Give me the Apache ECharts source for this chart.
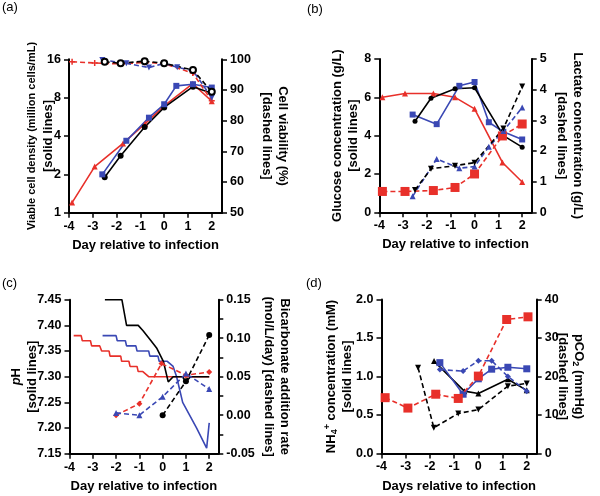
<!DOCTYPE html>
<html><head><meta charset="utf-8">
<script src="https://cdn.jsdelivr.net/npm/echarts@6/dist/echarts.min.js"></script>
<style>html,body{margin:0;padding:0;background:#fff}#c{width:600px;height:496px}</style>
</head><body><div id="c"></div><script>
// ---------- DATA ----------
const dayTicks = [-4, -3, -2, -1, 0, 1, 2];
// (a) viable cell density (million cells/mL), log2 axis
const vcdRed   = [[-3.87,1.2],[-2.92,2.3],[-1.73,3.5],[-0.8,5.0],[0,6.9],[1.2,10.3],[2,7.5]];
const vcdBlue  = [[-2.6,2.0],[-1.59,3.67],[-0.64,5.57],[0,7.1],[0.51,9.9],[1.21,10.2],[2,9.6]];
const vcdBlack = [[-2.5,1.9],[-1.83,2.8],[-0.82,4.7],[0,6.7],[1.21,9.75],[2,8.65]];
// (a) cell viability (%)
const viaRed   = [[-3.87,99.2],[-2.92,98.8],[-1.8,98.5],[-0.8,99.0],[0,98.6],[1.2,95.5],[2,86.5]];
const viaBlack = [[-2.5,99.2],[-1.83,98.7],[-0.82,99.4],[0,98.7],[1.21,96.5],[2,89.4]];
const viaBlue  = [[-2.6,99.8],[-1.59,98.7],[-0.64,97.3],[0,98.7],[0.55,97.4],[1.21,96.3],[2,87.5]];
// (b) glucose (g/L)
const glcRed   = [[-3.87,6.0],[-2.92,6.2],[-1.73,6.2],[-0.82,6.0],[0,5.4],[1.17,2.6],[2,1.58]];
const glcBlue  = [[-2.6,5.1],[-1.59,4.6],[-0.64,6.6],[0,6.8],[0.6,4.7],[1.21,4.2],[2,3.8]];
const glcBlack = [[-2.5,4.75],[-1.83,5.95],[-0.82,6.45],[0,6.5],[1.21,4.0],[2,3.4]];
// (b) lactate (g/L)
const lacRed   = [[-3.87,0.68],[-2.92,0.68],[-1.73,0.71],[-0.82,0.81],[0,1.25],[1.17,2.49],[2,2.88]];
const lacBlack = [[-2.5,0.73],[-1.83,1.42],[-0.82,1.52],[0,1.62],[1.21,2.73],[2,4.1]];
const lacBlue  = [[-2.6,0.52],[-1.59,1.74],[-0.64,1.44],[0,1.49],[0.6,2.14],[1.21,2.65],[2,3.42]];
// (c) pH (online traces)
const phRed = [[-3.82,7.38],[-3.5,7.38],[-3.45,7.37],[-3.1,7.37],[-3.05,7.36],[-2.7,7.36],[-2.62,7.35],[-2.3,7.35],[-2.26,7.34],[-1.8,7.34],[-1.76,7.33],[-1.45,7.33],[-1.4,7.32],[-1.1,7.32],[-1.05,7.31],[-0.85,7.31],[-0.6,7.30],[2.0,7.30]];
const phBlue = [[-2.58,7.38],[-2.0,7.38],[-1.95,7.37],[-1.6,7.37],[-1.55,7.36],[-1.15,7.36],[-1.1,7.35],[-0.6,7.35],[-0.55,7.34],[-0.2,7.34],[-0.15,7.33],[0.2,7.33],[0.45,7.32],[0.6,7.30],[0.86,7.25],[1.46,7.20],[1.89,7.161],[2.0,7.21]];
const phBlack = [[-2.48,7.45],[-1.75,7.45],[-1.55,7.40],[-1.05,7.40],[-0.85,7.39],[-0.5,7.37],[-0.26,7.356],[0.03,7.33],[0.24,7.29],[0.45,7.30],[0.85,7.30],[1.0,7.29],[1.2,7.30],[2.0,7.30]];
// (c) bicarbonate addition rate (mol/L/day)
const bicRed   = [[-2,0.0],[-1,0.015],[-0.05,0.067],[1,0.052],[2,0.056]];
const bicBlue  = [[-2,0.003],[-1,0.0],[0,0.024],[1,0.054],[2,0.034]];
const bicBlack = [[0,0.0],[1,0.044],[2,0.104]];
// (d) NH4+ (mM)
const nh4Black = [[-1.83,1.20],[-0.58,0.81],[0,0.78],[1.22,0.965],[2,0.82]];
const nh4Blue  = [[-1.59,1.18],[-0.63,0.77],[0,0.97],[0.55,1.095],[1.22,1.12],[2,1.10]];
// (d) pCO2 (mmHg)
const co2Red   = [[-3.85,14.5],[-2.91,11.8],[-1.76,15.4],[-0.83,14.3],[0,20.1],[1.17,34.8],[2.05,35.5]];
const co2Black = [[-2.49,22.3],[-1.84,6.7],[-0.83,10.4],[0,11.4],[1.22,17.5],[2,18.2]];
const co2Blue  = [[-1.59,21.8],[-0.63,21.4],[0,24.1],[0.55,24.1],[1.22,20.0],[2,16.2]];

// ---------- STYLE ----------
const FONT = '"Liberation Sans", Arial, sans-serif';
const RED = '#e8302a', BLUE = '#3a48b4', BLACK = '#000';
const grids = [
  {left:69, top:59.3, width:153, height:153.4},
  {left:379.3, top:59, width:152.4, height:153.3},
  {left:69.5, top:299.7, width:148.8, height:154},
  {left:381.5, top:299.5, width:155.2, height:154}
];
const xMax = [2.43, 2.40, 2.39, 2.41];
const xNames = ['Day relative to infection','Day relative to infection','Day relative to infection','Days relative to infection'];

const baseText = {fontFamily: FONT, fontWeight: 'bold', color: '#000'};
const rich = {
  t: {fontFamily: FONT, fontWeight: 'bold', fontSize: 13, lineHeight: 16, color:'#000'},
  s: {fontFamily: FONT, fontWeight: 'bold', fontSize: 11, lineHeight: 16, color:'#000'},
  i: {fontFamily: FONT, fontWeight: 'bold', fontStyle: 'italic', fontSize: 13, lineHeight: 16, color:'#000'},
  sub: {fontFamily: FONT, fontWeight: 'bold', fontSize: 9, lineHeight: 16, verticalAlign: 'bottom', color:'#000', padding:[4,0,0,0]},
  sup: {fontFamily: FONT, fontWeight: 'bold', fontSize: 9, lineHeight: 16, verticalAlign: 'top', color:'#000', padding:[0,0,6,0]}
};

function axisCommon() {
  return {
    axisLine: {show: true, onZero: false, lineStyle: {color: '#000', width: 2}},
    axisTick: {show: true, inside: false, length: 5, lineStyle: {color: '#000', width: 1.5}},
    splitLine: {show: false},
    nameMoveOverlap: false
  };
}
const xAxes = grids.map((g, i) => Object.assign(axisCommon(), {
  type: 'value', gridIndex: i, min: -4, max: xMax[i],
  axisTick: {show: true, length: 5, customValues: dayTicks, lineStyle: {color:'#000', width:1.5}},
  axisLabel: Object.assign({customValues: dayTicks, fontSize: 12.5, margin: 7}, baseText),
  name: xNames[i], nameLocation: 'middle', nameGap: 26,
  nameTextStyle: Object.assign({fontSize: 13}, baseText)
}));

function yAx(gi, pos, opts, name, gap) {
  return Object.assign(axisCommon(), {
    gridIndex: gi, position: pos, type: 'value',
    axisLabel: Object.assign({fontSize: 12.5, margin: 8}, baseText),
    name: name, nameLocation: 'middle', nameGap: gap,
    nameRotate: pos === 'left' ? 90 : -90,
    nameTextStyle: {rich: rich}
  }, opts);
}
const yAxes = [
  yAx(0, 'left', {type: 'log', logBase: 2, min: 1, max: 16,
    axisLabel: Object.assign({fontSize: 12.5, margin: 8, formatter: v => String(Math.round(v))}, baseText)},
    '{s|Viable cell density (million cells/mL)}\n{t|[solid lines]}', 13),
  yAx(0, 'right', {min: 50, max: 100, interval: 10},
    '{t|Cell viability (%)}\n{t|[dashed lines]}', 37),
  yAx(1, 'left', {min: 0, max: 8, interval: 2},
    '{t|Glucose concentration (g/L)}\n{t|[solid lines]}', 18),
  yAx(1, 'right', {min: 0, max: 5, interval: 1},
    '{t|Lactate concentration (g/L)}\n{t|[dashed lines]}', 22),
  yAx(2, 'left', {min: 7.15, max: 7.45, interval: 0.05,
    axisLabel: Object.assign({fontSize: 12.5, margin: 8, formatter: v => v.toFixed(2)}, baseText)},
    '{i|p}{t|H}\n{t|[solid lines]}', 29),
  yAx(2, 'right', {min: -0.05, max: 0.15, interval: 0.05,
    minorTick: {show: true, splitNumber: 2, length: 5, lineStyle: {color:'#000', width:1.5}},
    axisLabel: Object.assign({fontSize: 12.5, margin: 8, formatter: v => v.toFixed(2)}, baseText)},
    '{t|Bicarbonate addition rate}\n{t|(mol/L/day) [dashed lines]}', 42),
  yAx(3, 'left', {min: 0, max: 2, interval: 0.5,
    axisLabel: Object.assign({fontSize: 12.5, margin: 8, formatter: v => v.toFixed(1)}, baseText)},
    '{t|NH}{sub|4}{sup|+}{t| concentration (mM)}\n{t|[solid lines]}', 26),
  yAx(3, 'right', {min: 0, max: 40, interval: 10},
    '{t|pCO}{sub|2}{t| (mmHg)}\n{t|[dashed lines]}', 18)
];

function ser(xi, yi, data, color, dashed, symbol, size, rot) {
  return {
    type: 'line', xAxisIndex: xi, yAxisIndex: yi, data: data,
    symbol: symbol || 'none', symbolSize: size || 6, symbolRotate: rot || 0,
    showSymbol: !!symbol,
    itemStyle: {color: color, borderColor: color, borderWidth: symbol === 'emptyCircle' ? 2 : 0},
    lineStyle: {color: color, width: 1.6, type: dashed ? [5, 3] : 'solid'},
    z: dashed ? 3 : 2, silent: true
  };
}
const PLUS = 'path://M3,0H5V3H8V5H5V8H3V5H0V3H3Z';
const series = [
  // (a)
  ser(0, 0, vcdRed, RED, false, 'triangle', 6),
  ser(0, 0, vcdBlack, BLACK, false, 'circle', 6),
  ser(0, 0, vcdBlue, BLUE, false, 'rect', 6),
  ser(0, 1, viaRed, RED, true, PLUS, 6),
  ser(0, 1, viaBlue, BLUE, true, 'triangle', 6, 180),
  ser(0, 1, viaBlack, BLACK, true, 'emptyCircle', 6),
  // (b)
  ser(1, 2, glcRed, RED, false, 'triangle', 6),
  ser(1, 2, glcBlue, BLUE, false, 'rect', 6),
  ser(1, 2, glcBlack, BLACK, false, 'circle', 5),
  ser(1, 3, lacRed, RED, true, 'rect', 9),
  ser(1, 3, lacBlue, BLUE, true, 'triangle', 6),
  ser(1, 3, lacBlack, BLACK, true, 'triangle', 6, 180),
  // (c)
  ser(2, 4, phRed, RED, false),
  ser(2, 4, phBlue, BLUE, false),
  ser(2, 4, phBlack, BLACK, false),
  ser(2, 5, bicRed, RED, true, 'diamond', 6),
  ser(2, 5, bicBlue, BLUE, true, 'triangle', 6),
  ser(2, 5, bicBlack, BLACK, true, 'circle', 6),
  // (d)
  ser(3, 7, co2Red, RED, true, 'rect', 9),
  ser(3, 7, co2Black, BLACK, true, 'triangle', 6, 180),
  ser(3, 7, co2Blue, BLUE, true, 'diamond', 6),
  ser(3, 6, nh4Black, BLACK, false, 'triangle', 6),
  ser(3, 6, nh4Blue, BLUE, false, 'rect', 7)
];

const panelLabels = [['(a)', 2, 1], ['(b)', 307, 3], ['(c)', 2, 277], ['(d)', 306, 277]];
const chart = echarts.init(document.getElementById('c'), null, {renderer: 'canvas'});
chart.setOption({
  animation: false,
  backgroundColor: '#fff',
  grid: grids.map(g => Object.assign({outerBoundsMode: 'none', containLabel: false}, g)),
  xAxis: xAxes,
  yAxis: yAxes,
  series: series,
  graphic: panelLabels.map(p => ({
    type: 'text', left: p[1], top: p[2],
    style: {text: p[0], font: '13px ' + FONT, fill: '#000'}
  }))
});
</script></body></html>
